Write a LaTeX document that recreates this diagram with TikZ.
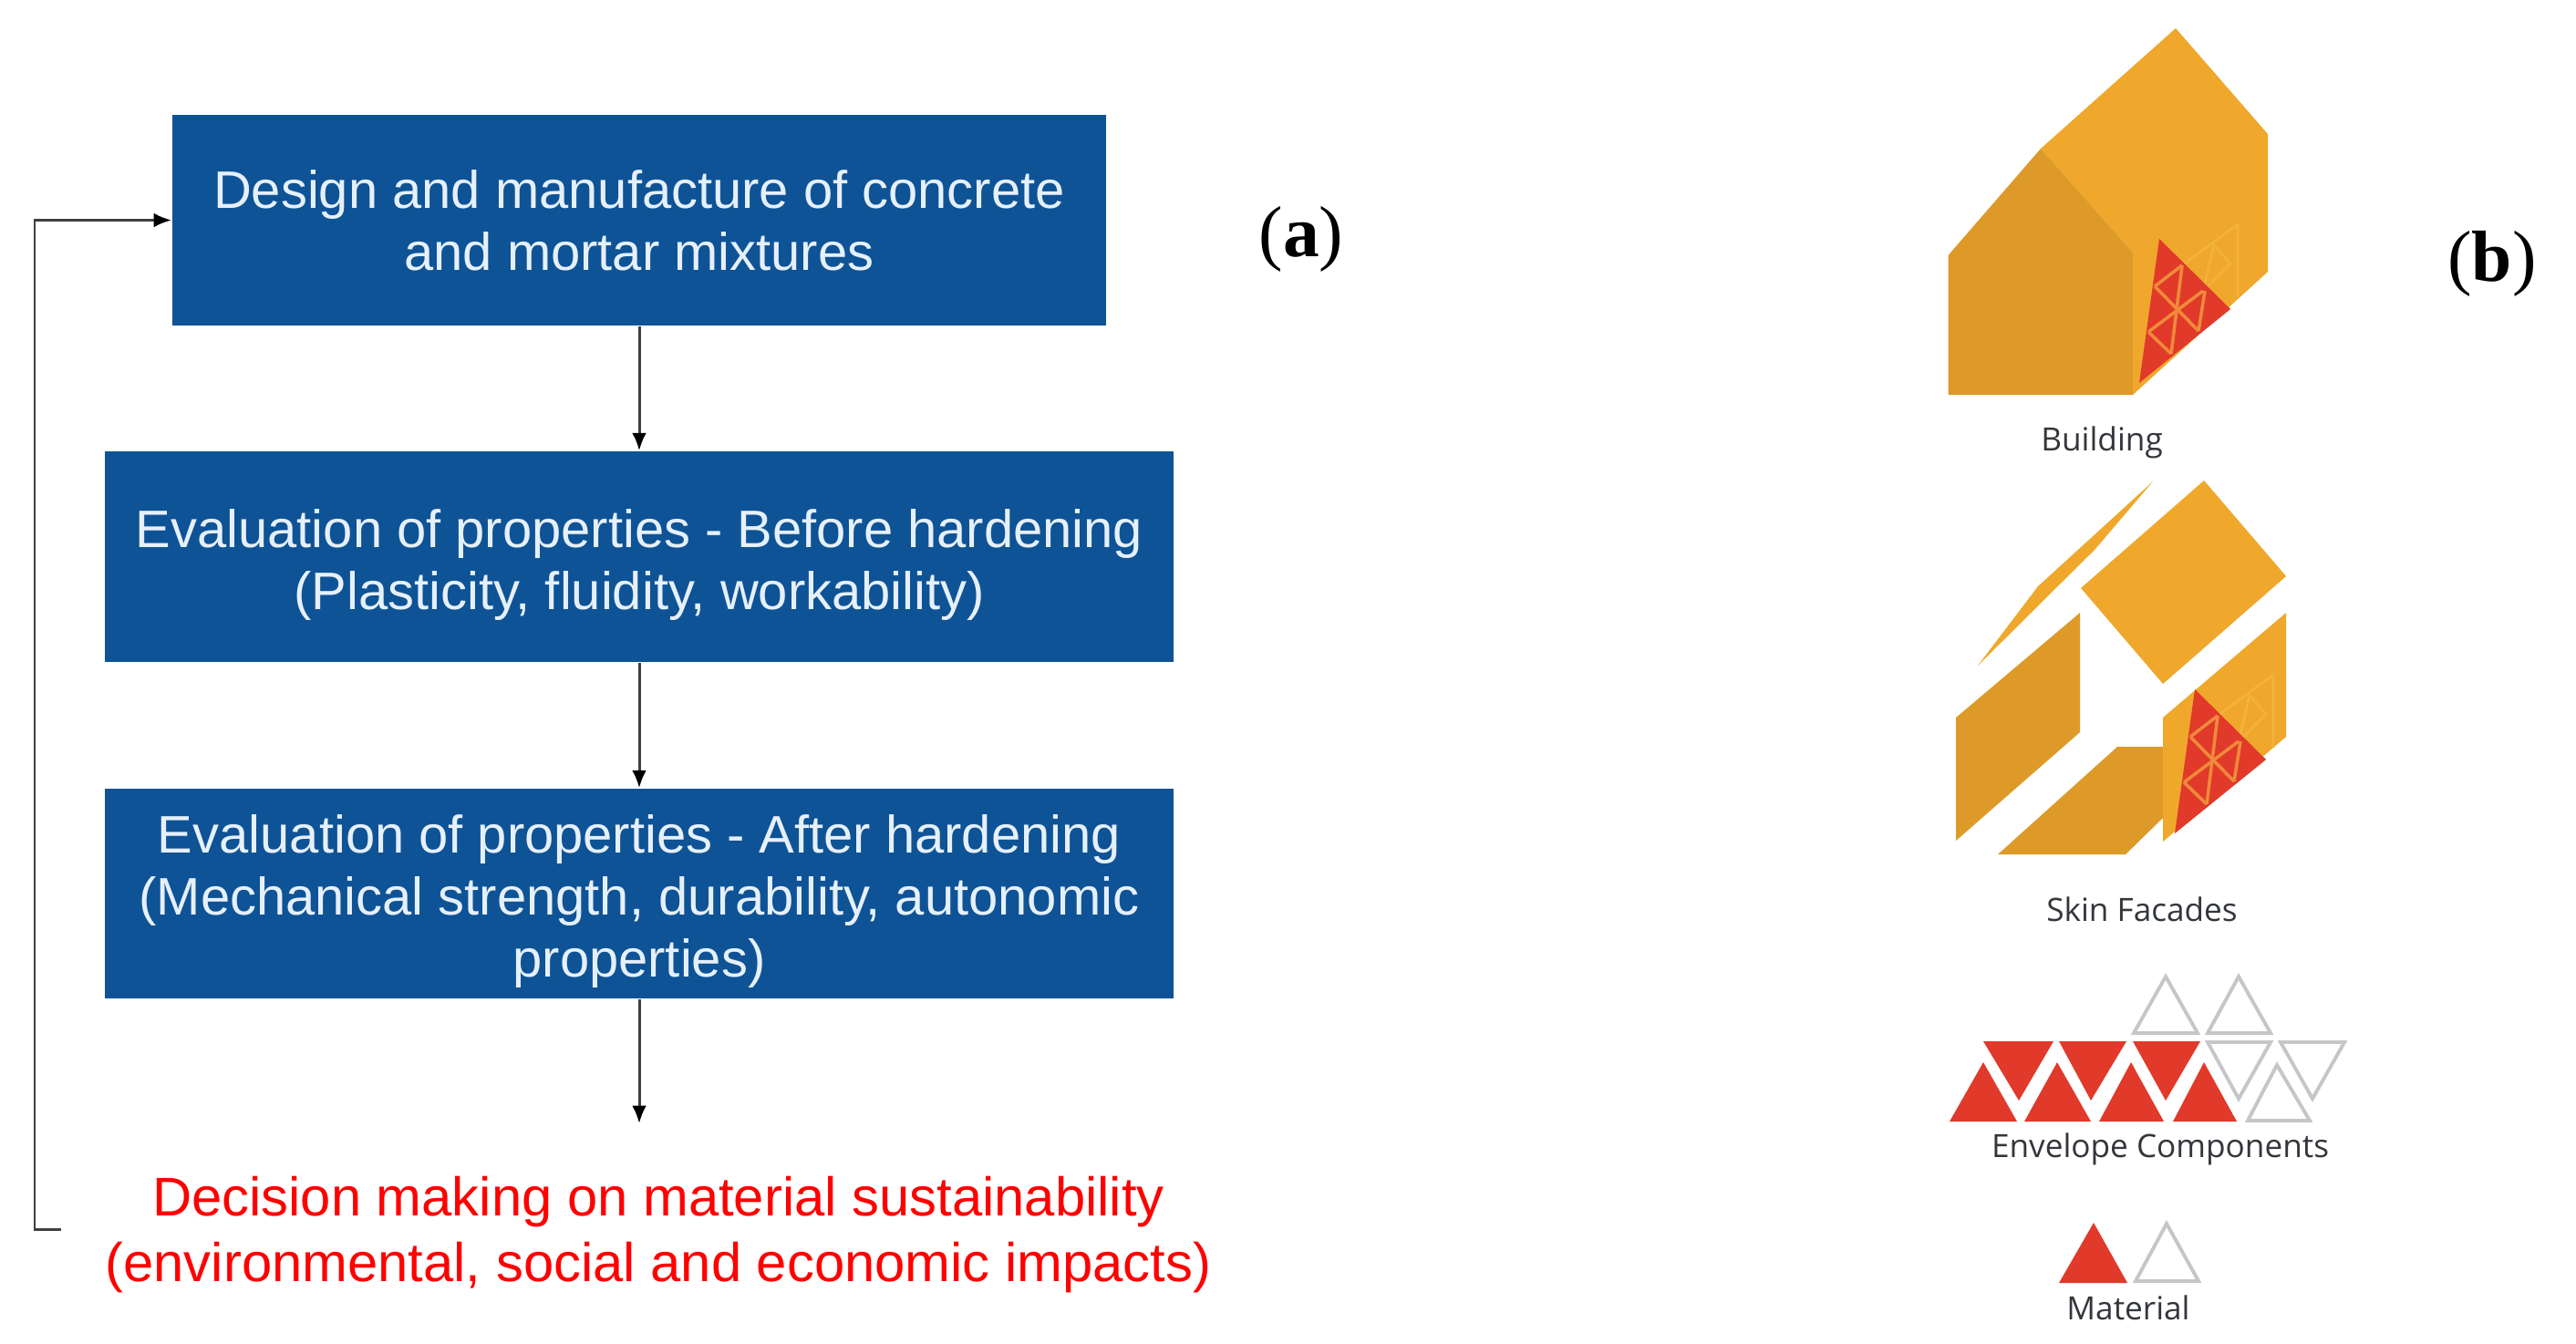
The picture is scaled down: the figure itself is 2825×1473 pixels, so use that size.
\documentclass[tikz,border=0pt]{standalone}
\usepackage{fontspec}
\setmainfont{Liberation Sans}
\newfontfamily\labfont{Open Sans}
\newfontfamily\tagfont{Liberation Serif}
\usetikzlibrary{arrows.meta}
\definecolor{boxblue}{HTML}{0E5396}
\definecolor{boxtext}{HTML}{E6F0FA}
\definecolor{orL}{HTML}{EFA82B}
\definecolor{orD}{HTML}{DD9A28}
\definecolor{redT}{HTML}{E1392A}
\definecolor{grayT}{HTML}{C4C6C8}
\definecolor{latt}{HTML}{F08A3A}
\definecolor{lattb}{HTML}{F3B23C}
\definecolor{labc}{HTML}{33363B}
\newcommand{\toppad}{\rule{0pt}{17pt}}
\newcommand{\lattdraw}{%
  \draw[lattb] (2432,785) -- (2493,740) -- (2493,820);
  \draw[lattb] (2455,813) -- (2467,763) -- (2485,783) -- (2458,810);
  \fill[redT] (2407,756) -- (2485,833) -- (2385,914) -- cycle;
  \draw[lattice] (2402,808) -- (2432,785);
  \draw[lattice] (2402,808) -- (2450,857);
  \draw[lattice] (2395,858) -- (2455,813);
  \draw[lattice] (2395,858) -- (2420,882);
  \draw[lattice] (2432,785) -- (2420,882);
  \draw[lattice] (2457,813) -- (2450,857);
}
\tikzset{
  x=0.01cm,y=-0.01cm,
  flowbox/.style={fill=boxblue,draw=none,text=boxtext,align=center,inner sep=0pt,font=\fontsize{16.47pt}{19.35pt}\selectfont},
  flowline/.style={draw=black!75,line width=0.85pt,-{Latex[length=5.5pt,width=4.5pt,black]}},
  partlabel/.style={text=labc,inner sep=0pt,font=\labfont\fontsize{10pt}{12pt}\selectfont},
  tagtext/.style={inner sep=0pt,font=\tagfont\fontsize{22.6pt}{26pt}\selectfont},
  graytri/.style={draw=grayT,line width=1.1pt,fill=none,line join=miter},
  lattice/.style={draw=latt,line width=1pt},
  lattb/.style={draw=lattb,line width=0.8pt},
}
\begin{document}
\begin{tikzpicture}
\useasboundingbox (0,0) rectangle (2825,1473);
\fill[white] (0,0) rectangle (2825,1473);
% flow boxes
\node[flowbox,minimum width=10.24cm,minimum height=2.31cm] (b1) at (701,241.5) {Design and manufacture of concrete\\and mortar mixtures};
\node[flowbox,minimum width=11.72cm,minimum height=2.31cm] (b2) at (701,610.5) {\toppad Evaluation of properties - Before hardening\\(Plasticity, fluidity, workability)};
\node[flowbox,minimum width=11.72cm,minimum height=2.30cm] (b3) at (701,980) {\toppad Evaluation of properties - After hardening\\(Mechanical strength, durability, autonomic\\properties)};
\node[text=red,align=center,inner sep=0pt,font=\fontsize{17pt}{20.5pt}\selectfont] (dec) at (722,1354) {Decision making on material sustainability\\(environmental, social and economic impacts)};
\coordinate (end3) at (701,1232);
\coordinate (fbA) at (67,1348);
\coordinate (fbB) at (38,1348);
\coordinate (fbC) at (38,241.5);
\draw[flowline] (b1.south) -- (b2.north);
\draw[flowline] (b2.south) -- (b3.north);
\draw[flowline] (b3.south) -- (end3);
\draw[flowline] (fbA) -- (fbB) -- (fbC) -- (b1.west);
\node[tagtext] (taga) at (1427,262) {(\textbf{a})};
\node[tagtext] (tagb) at (2733,289) {(\textbf{b})};
% building
\fill[orL] (2238,163) -- (2386,31) -- (2487,147) -- (2487,298) -- (2339,433) -- (2339,277) -- cycle;
\fill[orD] (2136.5,280) -- (2238,163) -- (2339,277) -- (2339,433) -- (2136.5,433) -- cycle;
\begin{scope}[shift={(-39,-494)}]
\lattdraw
\end{scope}
\node[partlabel] (l1) at (2305,485) {Building};
% skin facades
\fill[orL] (2361,528) -- (2235,643) -- (2169,730) -- (2297,603) -- cycle;
\fill[orL] (2417,527) -- (2507,632) -- (2372,750) -- (2282,645) -- cycle;
\fill[orD] (2281,672) -- (2281,803) -- (2145,922) -- (2145,787) -- cycle;
\fill[orD] (2322,819) -- (2372,819) -- (2372,897) -- (2331,937) -- (2191,937) -- cycle;
\fill[orL] (2507,672) -- (2507,808) -- (2372,923) -- (2372,787) -- cycle;
\lattdraw
\node[partlabel] (l2) at (2349,997) {Skin Facades};
% envelope components
\fill[redT] (2138,1230) -- (2175,1165) -- (2212,1230) -- cycle;
\fill[redT] (2220,1230) -- (2256,1165) -- (2293,1230) -- cycle;
\fill[redT] (2302,1230) -- (2337,1165) -- (2373,1230) -- cycle;
\fill[redT] (2383,1230) -- (2417,1165) -- (2453,1230) -- cycle;
\fill[redT] (2175,1142) -- (2252,1142) -- (2214,1207) -- cycle;
\fill[redT] (2258,1142) -- (2332,1142) -- (2293,1207) -- cycle;
\fill[redT] (2339,1142) -- (2413,1142) -- (2375,1207) -- cycle;
\draw[graytri] (2340,1133) -- (2375,1071) -- (2410,1133) -- cycle;
\draw[graytri] (2421,1133) -- (2455,1071) -- (2490,1133) -- cycle;
\draw[graytri] (2421,1143) -- (2490,1143) -- (2455,1205) -- cycle;
\draw[graytri] (2501,1143) -- (2571,1143) -- (2536,1205) -- cycle;
\draw[graytri] (2465,1229) -- (2497,1168) -- (2533,1229) -- cycle;
\node[partlabel] (l3) at (2369,1260) {Envelope Components};
% material
\fill[redT] (2258,1407) -- (2296,1341) -- (2333,1407) -- cycle;
\draw[graytri] (2342,1405) -- (2376,1342) -- (2411,1405) -- cycle;
\node[partlabel] (l4) at (2334,1434) {Material};
\end{tikzpicture}
\end{document}
